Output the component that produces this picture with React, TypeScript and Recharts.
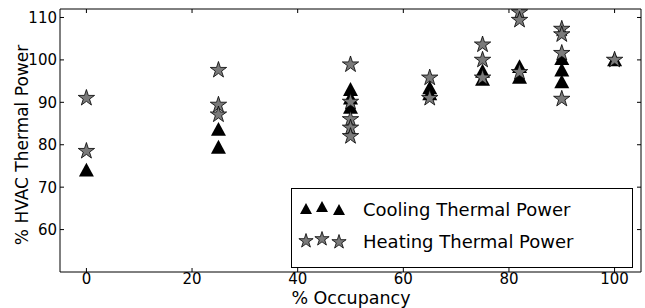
import { ScatterChart, Scatter, XAxis, YAxis, Label } from "recharts";

// values
const coolingOccupancy = [0, 25, 25, 50, 50, 50, 65, 65, 75, 75, 82, 82, 90, 90, 90, 100];
const coolingPower = [74, 83.6, 79.4, 93, 91, 88.8, 93.4, 92, 97.3, 95.4, 98.4, 95.9, 100.3, 97.6, 94.8, 100];

const heatingOccupancy = [0, 0, 25, 25, 25, 50, 50, 50, 50, 50, 65, 65, 75, 75, 75, 82, 82, 82, 90, 90, 90, 90, 100];
const heatingPower = [91, 78.5, 97.6, 89.4, 87.1, 98.9, 90.1, 86, 84, 82, 95.8, 91, 103.6, 100, 95.8, 111.2, 109.4, 97.1, 107.3, 106, 101.6, 90.8, 100];

const xTicks = [0, 20, 40, 60, 80, 100];
const yTicks = [60, 70, 80, 90, 100, 110];

const FONT = "'DejaVu Sans', sans-serif";
const STAR_FILL = "#7a7a7a";

const cooling = coolingOccupancy.map((x, i) => ({ x, y: coolingPower[i] }));
const heating = heatingOccupancy.map((x, i) => ({ x, y: heatingPower[i] }));

function starPath(cx: number, cy: number, r: number) {
  const inner = r * 0.381966;
  let d = "";
  for (let i = 0; i < 10; i++) {
    const rad = i % 2 === 0 ? r : inner;
    const a = -Math.PI / 2 + (i * Math.PI) / 5;
    d += (i === 0 ? "M" : "L") + (cx + rad * Math.cos(a)).toFixed(2) + "," + (cy + rad * Math.sin(a)).toFixed(2);
  }
  return d + "Z";
}

function trianglePath(cx: number, cy: number, s: number) {
  return `M${cx},${cy - s}L${cx + s},${cy + s * 0.85}L${cx - s},${cy + s * 0.85}Z`;
}

const Star = (props: any) => (
  <path d={starPath(props.cx, props.cy, 8.6)} fill={STAR_FILL} stroke="#000" strokeWidth={0.8} />
);

const Triangle = (props: any) => <path d={trianglePath(props.cx, props.cy, 7.5)} fill="#000" />;

// matplotlib-style ticks pointing into the plot
const BottomTick = (props: any) => {
  const { x, y, payload } = props;
  return (
    <g>
      <line x1={x} y1={y - 1} x2={x} y2={y - 5} stroke="#000" />
      <text x={x} y={y} dy="0.71em" textAnchor="middle" fontSize={15} fontFamily={FONT} fill="#000">
        {payload.value}
      </text>
    </g>
  );
};

const TopTick = (props: any) => {
  const { x, y } = props;
  return <line x1={x} y1={y} x2={x} y2={y + 4} stroke="#000" />;
};

const LeftTick = (props: any) => {
  const { x, y, payload } = props;
  return (
    <g>
      <line x1={x + 3} y1={y} x2={x + 7} y2={y} stroke="#000" />
      <text x={x} y={y} dy="0.36em" textAnchor="end" fontSize={15} fontFamily={FONT} fill="#000">
        {payload.value}
      </text>
    </g>
  );
};

const RightTick = (props: any) => {
  const { x, y } = props;
  return <line x1={x} y1={y} x2={x - 4} y2={y} stroke="#000" />;
};

const YLabel = () => (
  <text
    x={22}
    y={145}
    transform="rotate(-90, 22, 145)"
    textAnchor="middle"
    dominantBaseline="central"
    fontSize={17}
    fontFamily={FONT}
    fill="#000"
  >
    % HVAC Thermal Power
  </text>
);

const XLabel = () => (
  <text x={351} y={304} textAnchor="middle" fontSize={17.5} fontFamily={FONT} fill="#000">
    % Occupancy
  </text>
);

function LegendBox() {
  const mx = [15, 31, 48];
  const dy = [0, -2, 1];
  return (
    <svg
      width={342}
      height={80}
      style={{ position: "absolute", left: 291, top: 188, fontFamily: FONT }}
    >
      <rect x={0.5} y={0.5} width={341} height={79} fill="#fff" stroke="#000" />
      {mx.map((x, i) => (
        <path key={"t" + i} d={trianglePath(x, 21 + dy[i], 6)} fill="#000" />
      ))}
      {mx.map((x, i) => (
        <path
          key={"s" + i}
          d={starPath(x, 53 + dy[i], 7.5)}
          fill={STAR_FILL}
          stroke="#000"
          strokeWidth={0.8}
        />
      ))}
      <text x={72} y={28} fontSize={18} fill="#000">
        Cooling Thermal Power
      </text>
      <text x={72} y={60} fontSize={18} fill="#000">
        Heating Thermal Power
      </text>
    </svg>
  );
}

export default function App() {
  return (
    <div style={{ position: "fixed", left: 0, top: 0, width: 645, height: 308, background: "#fff", fontFamily: FONT }}>
      <ScatterChart width={645} height={308} margin={{ top: 0, right: 0, bottom: 0, left: 0 }}>
        <XAxis
          xAxisId="bottom"
          dataKey="x"
          type="number"
          domain={[-5, 105]}
          ticks={xTicks}
          allowDataOverflow
          height={36}
          tickSize={0}
          tickMargin={1}
          tick={<BottomTick />}
          stroke="#000"
        >
          <Label content={<XLabel />} />
        </XAxis>
        <XAxis
          xAxisId="top"
          orientation="top"
          dataKey="x"
          type="number"
          domain={[-5, 105]}
          ticks={xTicks}
          allowDataOverflow
          height={9}
          tickSize={0}
          tickMargin={0}
          tick={<TopTick />}
          stroke="#000"
        />
        <YAxis
          yAxisId="left"
          dataKey="y"
          type="number"
          domain={[50, 112]}
          ticks={yTicks}
          allowDataOverflow
          width={60}
          tickSize={0}
          tickMargin={3}
          tick={<LeftTick />}
          stroke="#000"
        >
          <Label content={<YLabel />} />
        </YAxis>
        <YAxis
          yAxisId="right"
          orientation="right"
          dataKey="y"
          type="number"
          domain={[50, 112]}
          ticks={yTicks}
          allowDataOverflow
          width={4}
          tickSize={0}
          tickMargin={0}
          tick={<RightTick />}
          stroke="#000"
        />
        <Scatter
          name="Cooling Thermal Power"
          data={cooling}
          xAxisId="bottom"
          yAxisId="left"
          shape={<Triangle />}
          isAnimationActive={false}
        />
        <Scatter
          name="Heating Thermal Power"
          data={heating}
          xAxisId="bottom"
          yAxisId="left"
          shape={<Star />}
          isAnimationActive={false}
        />
      </ScatterChart>
      <LegendBox />
    </div>
  );
}
